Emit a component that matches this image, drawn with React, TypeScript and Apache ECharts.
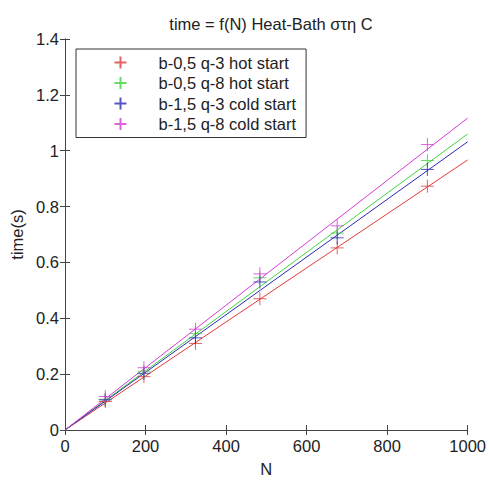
import React, { useEffect, useRef } from "react";
import * as echarts from "echarts";

const N = [100, 196, 324, 484, 676, 900];
const names = [
  "b-0,5 q-3 hot start",
  "b-0,5 q-8 hot start",
  "b-1,5 q-3 cold start",
  "b-1,5 q-8 cold start",
];
const colors = ["#e03a3a", "#3fd33f", "#2a2ab8", "#d43ad4"];
const red = [0.102, 0.191, 0.31, 0.47, 0.652, 0.873];
const green = [0.11, 0.21, 0.345, 0.545, 0.705, 0.965];
const blue = [0.108, 0.203, 0.33, 0.53, 0.688, 0.933];
const magenta = [0.12, 0.223, 0.361, 0.559, 0.731, 1.022];
const fitX = [0, 1000];
const fitRed = [0, 0.967];
const fitGreen = [0, 1.06];
const fitBlue = [0, 1.032];
const fitMagenta = [0, 1.117];
const title = "time = f(N) Heat-Bath στη C";

const PLUS = "path://M0,-1L0,1M-1,0L1,0";

export default function App() {
  const ref = useRef<HTMLDivElement>(null);
  useEffect(() => {
    const chart = echarts.init(ref.current!, null, { renderer: "svg" });
    const pts = [red, green, blue, magenta];
    const fits = [fitRed, fitGreen, fitBlue, fitMagenta];
    const font = "Liberation Sans, Arial, sans-serif";
    const fs = 16.5;
    const axisCommon = {
      min: 0,
      axisLine: { show: true, lineStyle: { color: "#444", width: 1 } },
      axisTick: { show: true, inside: true, length: 5, lineStyle: { color: "#444" } },
      splitLine: { show: false },
    };
    const series: any[] = [];
    fits.forEach((f, i) => {
      series.push({
        type: "line",
        name: "fit" + i,
        data: fitX.map((x, j) => [x, f[j]]),
        showSymbol: false,
        lineStyle: { color: colors[i], width: 1 },
        itemStyle: { color: colors[i] },
        z: 2,
      });
    });
    pts.forEach((p, i) => {
      series.push({
        type: "scatter",
        name: names[i],
        data: N.map((x, j) => [x, p[j]]),
        symbol: PLUS,
        symbolSize: 13,
        itemStyle: { color: "none", borderColor: colors[i], borderWidth: 1 },
        z: 3,
      });
    });
    chart.setOption({
      animation: false,
      backgroundColor: "#fff",
      title: {
        text: title,
        left: 266,
        textAlign: "center",
        top: 10,
        textStyle: { fontFamily: font, fontSize: fs, fontWeight: "normal", color: "#222" },
      },
      grid: { left: 65, right: 21, top: 39, bottom: 50 },
      legend: {
        data: names,
        orient: "vertical",
        left: 76,
        top: 49,
        padding: [5, 10, 5, 36],
        itemWidth: 12,
        itemHeight: 12,
        itemGap: 3.5,
        borderColor: "#333",
        borderWidth: 1,
        backgroundColor: "#fff",
        textStyle: {
          fontFamily: font,
          fontSize: 16.5,
          lineHeight: 17,
          color: "#222",
          padding: [0, 0, 0, 27],
        },
      },
      xAxis: [
        {
          ...axisCommon,
          type: "value",
          max: 1000,
          interval: 200,
          name: "N",
          nameLocation: "middle",
          nameGap: 30,
          nameTextStyle: { fontFamily: font, fontSize: fs, color: "#222" },
          axisLabel: {
            fontFamily: font,
            fontSize: fs,
            color: "#222",
            margin: 7,
            formatter: (v: number) => String(v),
          },
        },
        {
          ...axisCommon,
          type: "value",
          position: "top",
          max: 1000,
          interval: 200,
          axisLabel: { show: false },
        },
      ],
      yAxis: [
        {
          ...axisCommon,
          type: "value",
          max: 1.4,
          interval: 0.2,
          name: "time(s)",
          nameLocation: "middle",
          nameGap: 38,
          nameTextStyle: { fontFamily: font, fontSize: fs, color: "#222" },
          axisLabel: { fontFamily: font, fontSize: fs, color: "#222", margin: 6 },
        },
        {
          ...axisCommon,
          type: "value",
          position: "right",
          max: 1.4,
          interval: 0.2,
          axisLabel: { show: false },
        },
      ],
      series,
    });
    return () => chart.dispose();
  }, []);
  return (
    <div
      ref={ref}
      style={{ position: "absolute", left: 0, top: 0, width: 489, height: 482 }}
    />
  );
}
